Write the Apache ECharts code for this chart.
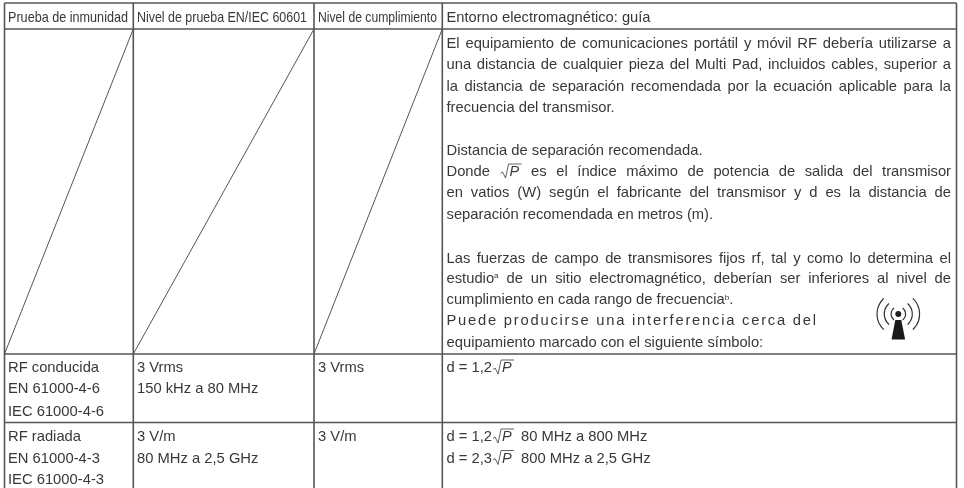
<!DOCTYPE html>
<html><head><meta charset="utf-8">
<style>html,body{margin:0;padding:0;background:#fff}#c{width:964px;height:488px}</style>
<script src="https://cdn.jsdelivr.net/npm/echarts@6/dist/echarts.min.js"></script>
</head><body><div id="c"></div>
<script>
// ---- content ----
const headers = ["Prueba de inmunidad","Nivel de prueba EN/IEC 60601","Nivel de cumplimiento","Entorno electromagnético: guía"];
const conductedCells = [["RF conducida","EN 61000-4-6","IEC 61000-4-6"],["3 Vrms","150 kHz a 80 MHz"],["3 Vrms"],["d = 1,2√P"]];
const radiatedCells = [["RF radiada","EN 61000-4-3","IEC 61000-4-3"],["3 V/m","80 MHz a 2,5 GHz"],["3 V/m"],["d = 1,2√P  80 MHz a 800 MHz","d = 2,3√P  800 MHz a 2,5 GHz"]];
const guideLines = [
 "El equipamiento de comunicaciones portátil y móvil RF debería utilizarse a",
 "una distancia de cualquier pieza del Multi Pad, incluidos cables, superior a",
 "la distancia de separación recomendada por la ecuación aplicable para la",
 "frecuencia del transmisor.",
 "Distancia de separación recomendada.",
 "Donde √P es el índice máximo de potencia de salida del transmisor",
 "en vatios (W) según el fabricante del transmisor y d es la distancia de",
 "separación recomendada en metros (m).",
 "Las fuerzas de campo de transmisores fijos rf, tal y como lo determina el",
 "estudio^a de un sitio electromagnético, deberían ser inferiores al nivel de",
 "cumplimiento en cada rango de frecuencia^b.",
 "Puede producirse una interferencia cerca del",
 "equipamiento marcado con el siguiente símbolo:"
];
// ---- layout (page pixels) ----
const colX = [4.5,133.3,314,442.3,956.5];
const rowY = [3,29,354,422.5,488];
const textX = [8,137,318,446.5];
const headerFit = [120,170,119,204];
const guideY = [44,65.4,86.8,108.2,150.5,172,193.4,214.8,258.5,279,300.3,321,343];
const guideFit = [951,951,951,null,null,951,951,null,951,951,null,null,null];
const guideTrack = {11:816};
const conductedY = [368,389.3,411.5];
const radiatedY = [437,458.5,480];
const INK='#383838', RULE='#555555', FS=14.5, FF="'Liberation Sans',Arial,sans-serif";

const rules = [];
colX.forEach(x=>rules.push([x,rowY[0],x,rowY[4]]));
rowY.slice(0,4).forEach(y=>rules.push([colX[0],y,colX[4],y]));
const diagonals = [[colX[1],rowY[1],colX[0],rowY[2]],[colX[2],rowY[1],colX[1],rowY[2]],[colX[3],rowY[1],colX[2],rowY[2]]];

const ctx=document.createElement('canvas').getContext('2d');
function rawW(s,fs){ctx.font=fs+'px '+FF;return ctx.measureText(s).width;}
const BODY_SX=256/rawW("Distancia de separación recomendada.",FS);
let SX=BODY_SX;
function tw(s,fs){return rawW(s,fs)*SX;}
function splitWord(w){return w.split(/(√P|\^[ab])/).filter(Boolean);}
function wordW(w){return splitWord(w).reduce((a,p)=>a+(p==='√P'?22:p[0]==='^'?tw(p[1],8):tw(p,FS)),0);}
function txt(c,s,font,sx){return {type:'text',x:c[0],y:c[1],scaleX:sx||SX,style:{text:s,font,fill:INK,verticalAlign:'middle'},silent:true};}
function drawWord(w,x,y,out,coord){
  splitWord(w).forEach(p=>{
    if(p==='√P'){
      const pts=[[x+1,y+1.5],[x+3,y],[x+6,y+6],[x+9,y-8],[x+22,y-8]].map(coord);
      out.push({type:'polyline',shape:{points:pts},style:{stroke:INK,fill:null,lineWidth:0.8},silent:true});
      out.push(txt(coord([x+10,y]),'P','italic '+FS+'px '+FF,1));
      x+=22;
    }else if(p[0]==='^'){
      out.push(txt(coord([x,y-3]),p[1],'8px '+FF));
      x+=tw(p[1],8);
    }else{
      out.push(txt(coord([x,y]),p,FS+'px '+FF));
      x+=tw(p,FS);
    }
  });
}
function drawLine(s,x,y,right,track,coord){
  const out=[];
  if(track){
    const chars=[...s],tot=chars.reduce((a,c)=>a+tw(c,FS),0),gap=(track-x-tot)/(chars.length-1);
    chars.forEach(ch=>{if(ch!==' ')drawWord(ch,x,y,out,coord);x+=tw(ch,FS)+gap;});
    return out;
  }
  const words=s.split(/ +/),w=words.map(wordW),sum=w.reduce((a,b)=>a+b,0);
  const gaps=s.match(/ +/g)||[];
  const natural=tw(' ',FS);
  const gap=right?(right-x-sum)/(words.length-1):natural;
  words.forEach((wd,i)=>{drawWord(wd,x,y,out,coord);x+=w[i]+(gaps[i]&&gaps[i].length>1?gap*1.7:gap);});
  return out;
}
// flat list of text lines
const textItems=[];
headers.forEach((h,i)=>textItems.push({s:h,x:textX[i],y:17.5,sx:headerFit[i]/rawW(h,FS)}));
guideLines.forEach((s,i)=>textItems.push({s,x:textX[3],y:guideY[i],r:guideFit[i],t:guideTrack[i]}));
conductedCells.forEach((c,i)=>c.forEach((s,j)=>textItems.push({s,x:textX[i],y:conductedY[j]})));
radiatedCells.forEach((c,i)=>c.forEach((s,j)=>textItems.push({s,x:textX[i],y:radiatedY[j]})));

const chart=echarts.init(document.getElementById('c'),null,{renderer:'canvas'});
const lineRender=w=>(params,api)=>({type:'line',
  shape:{x1:api.coord([api.value(0),api.value(1)])[0],y1:api.coord([api.value(0),api.value(1)])[1],
         x2:api.coord([api.value(2),api.value(3)])[0],y2:api.coord([api.value(2),api.value(3)])[1]},
  style:{stroke:RULE,lineWidth:w},silent:true});
const symbol=[[898.3,314]];
chart.setOption({
  animation:false,
  grid:{left:0,right:0,top:0,bottom:0},
  xAxis:{type:'value',min:0,max:964,show:false},
  yAxis:{type:'value',min:0,max:488,inverse:true,show:false},
  tooltip:{show:false},
  series:[
   {type:'custom',name:'rules',data:rules,renderItem:lineRender(1.6),clip:false,silent:true,encode:{x:[0,2],y:[1,3]}},
   {type:'custom',name:'diagonals',data:diagonals,renderItem:lineRender(1),clip:false,silent:true,encode:{x:[0,2],y:[1,3]}},
   {type:'custom',name:'text',data:textItems.map(t=>[t.x,t.y]),clip:false,silent:true,encode:{x:0,y:1},
    renderItem:(params,api)=>{
      const t=textItems[params.dataIndex];
      SX=t.sx||BODY_SX;
      return {type:'group',children:drawLine(t.s,t.x,t.y,t.r,t.t,p=>api.coord(p))};
    }},
   {type:'custom',name:'symbol',data:symbol,clip:false,silent:true,encode:{x:0,y:1},
    renderItem:(params,api)=>{
      const [cx,cy]=api.coord([api.value(0),api.value(1)]);
      const ch=[];
      ch.push({type:'circle',shape:{cx,cy,r:3},style:{fill:'#222'}});
      ch.push({type:'polygon',shape:{points:[[cx-3,cy+6],[cx+3,cy+6],[cx+6.8,cy+25.5],[cx-6.8,cy+25.5]]},style:{fill:'#1a1a1a'}});
      [[7.3,0.95],[14,0.85],[21.3,0.82]].forEach(([r,a])=>{
        ch.push({type:'arc',shape:{cx,cy,r,startAngle:-a,endAngle:a},style:{stroke:'#333',fill:null,lineWidth:1.2}});
        ch.push({type:'arc',shape:{cx,cy,r,startAngle:Math.PI-a,endAngle:Math.PI+a},style:{stroke:'#333',fill:null,lineWidth:1.2}});
      });
      return {type:'group',children:ch,silent:true};
    }}
  ]
});
</script></body></html>
